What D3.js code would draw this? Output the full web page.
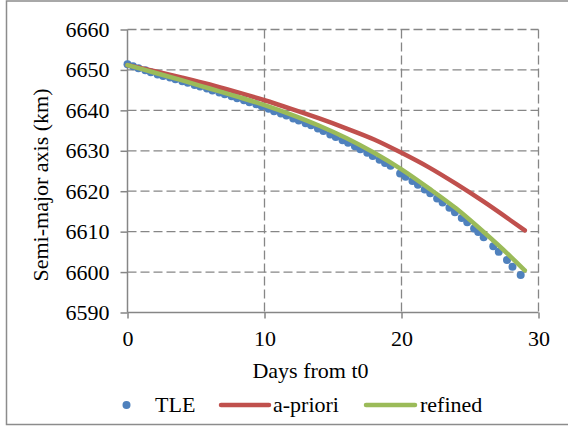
<!DOCTYPE html>
<html>
<head>
<meta charset="utf-8">
<script src="https://cdn.jsdelivr.net/npm/d3@7"></script>
<style>
  html, body { margin: 0; padding: 0; background: #fff; }
  svg { display: block; }
  svg text { font-family: "Liberation Serif", "Times New Roman", serif !important; fill: #000; }
</style>
</head>
<body>
<svg id="chart" width="568" height="426"></svg>
<script>
// ---- data ----
const xTicks = [0, 10, 20, 30];
const yTicks = [6590, 6600, 6610, 6620, 6630, 6640, 6650, 6660];

const tleDays = [0, 0.4, 0.8, 1.3, 1.7, 2.2, 2.6, 3.1, 3.5, 4.0, 4.4, 4.9, 5.3, 5.8, 6.2, 6.7, 7.1, 7.6, 8.0, 8.5, 8.9, 9.4, 9.8,
  10.3, 10.7, 11.2, 11.6, 12.1, 12.5, 13.0, 13.4, 13.9, 14.3, 14.8, 15.2, 15.7, 16.1, 16.6, 17.0, 17.5, 17.9, 18.4, 18.8, 19.2,
  19.9, 20.3, 20.8, 21.2, 21.7, 22.1, 22.6, 23.0, 23.5, 23.9, 24.4, 24.8, 25.3, 25.6, 26.0, 26.7, 27.1, 27.7, 28.1, 28.7];
const tleValues = [6651.4, 6650.9, 6650.4, 6649.9, 6649.4, 6648.9, 6648.5, 6648.1, 6647.7, 6647.2, 6646.8, 6646.3, 6645.9, 6645.4,
  6644.9, 6644.4, 6644.0, 6643.5, 6643.0, 6642.5, 6642.0, 6641.5, 6641.0, 6640.4, 6639.8, 6639.2, 6638.7, 6638.0, 6637.5,
  6636.8, 6636.3, 6635.5, 6634.9, 6634.0, 6633.4, 6632.6, 6632.0, 6631.1, 6630.4, 6629.5, 6628.7, 6627.8, 6627.0, 6626.3,
  6624.4, 6623.6, 6622.5, 6621.6, 6620.4, 6619.5, 6618.2, 6617.2, 6615.9, 6614.8, 6613.4, 6612.3, 6610.8, 6609.9, 6608.6,
  6606.4, 6605.0, 6603.0, 6601.3, 6599.3];

const modelDays = [0, 2, 4, 6, 8, 10, 12, 14, 16, 18, 20, 22, 24, 26, 28, 29];
const aprioriValues = [6651.2, 6649.7, 6648.1, 6646.4, 6644.5, 6642.5, 6640.3, 6638.0, 6635.5, 6632.8, 6629.5, 6625.9, 6621.8, 6617.4, 6612.7, 6610.3];
const refinedValues = [6651.2, 6649.3, 6647.4, 6645.4, 6643.4, 6641.3, 6638.9, 6636.2, 6633.1, 6629.5, 6625.4, 6620.7, 6615.7, 6609.9, 6603.7, 6600.4];

const seriesNames = ["TLE", "a-priori", "refined"];
const colors = { TLE: "#4F81BD", "a-priori": "#C0504D", refined: "#9BBB59" };

// ---- layout ----
const FONT = "'Liberation Serif', 'Times New Roman', serif";
const svg = d3.select("#chart");
const pLeft = 127.5, pRight = 538.5, pTop = 29.5, pBottom = 312.5;
const x = d3.scaleLinear().domain([0, 30]).range([pLeft, pRight]);
const y = d3.scaleLinear().domain([6590, 6660]).range([pBottom, pTop]);
const gridColor = "#868686";

// outer frame
svg.append("rect").attr("x", 6.5).attr("y", 1).attr("width", 570).attr("height", 423.5)
  .attr("fill", "none").attr("stroke", "#8c8c8c").attr("stroke-width", 1.5);

// grid lines
svg.append("g").selectAll("line").data(yTicks.filter(d => d !== 6590)).join("line")
  .attr("x1", pLeft).attr("x2", pRight).attr("y1", d => y(d)).attr("y2", d => y(d))
  .attr("stroke", gridColor).attr("stroke-width", 1.3).attr("stroke-dasharray", "9,4");
svg.append("g").selectAll("line").data(xTicks.filter(d => d !== 0)).join("line")
  .attr("x1", d => x(d)).attr("x2", d => x(d)).attr("y1", pTop).attr("y2", pBottom)
  .attr("stroke", gridColor).attr("stroke-width", 1.3).attr("stroke-dasharray", "9,4");

// axes
const yAxis = d3.axisLeft(y).tickValues(yTicks).tickSize(7).tickPadding(11).tickFormat(d3.format("d"));
const xAxis = d3.axisBottom(x).tickValues(xTicks).tickSize(6).tickPadding(12).tickFormat(d3.format("d"));
const gy = svg.append("g").attr("transform", `translate(${pLeft},0)`).call(yAxis);
const gx = svg.append("g").attr("transform", `translate(0,${pBottom})`).call(xAxis);
[gx, gy].forEach(g => {
  g.attr("font-family", null).attr("font-size", null);
  g.select(".domain").attr("stroke", gridColor).attr("stroke-width", 1.5);
  g.selectAll(".tick line").attr("stroke", gridColor).attr("stroke-width", 1.5);
  g.selectAll(".tick text").style("font-family", FONT).style("font-size", "22px").attr("fill", "#000");
});
gy.select(".domain").attr("d", `M0,${pBottom}V${pTop}`);
gx.select(".domain").attr("d", `M${pLeft},0H${pRight}`);

function addText(sel) {
  return sel.append("text").style("font-family", FONT).style("font-size", "22px");
}

// axis titles
addText(svg).attr("x", 310.5).attr("y", 378).attr("text-anchor", "middle").text("Days from t0");
addText(svg).attr("transform", `translate(48,185) rotate(-90)`).attr("text-anchor", "middle")
  .text("Semi-major axis (km)");

// series
const tle = tleDays.map((d, i) => ({ x: d, y: tleValues[i] }));
const apriori = modelDays.map((d, i) => ({ x: d, y: aprioriValues[i] }));
const refined = modelDays.map((d, i) => ({ x: d, y: refinedValues[i] }));

svg.append("g").selectAll("circle").data(tle).join("circle")
  .attr("cx", d => x(d.x)).attr("cy", d => y(d.y)).attr("r", 4).attr("fill", colors.TLE);

const line = d3.line().x(d => x(d.x)).y(d => y(d.y)).curve(d3.curveMonotoneX);
svg.append("path").datum(apriori).attr("d", line).attr("fill", "none")
  .attr("stroke", colors["a-priori"]).attr("stroke-width", 4.5).attr("stroke-linecap", "round");
svg.append("path").datum(refined).attr("d", line).attr("fill", "none")
  .attr("stroke", colors.refined).attr("stroke-width", 4.5).attr("stroke-linecap", "round");

// legend
const lg = svg.append("g");
lg.append("circle").attr("cx", 126.5).attr("cy", 405).attr("r", 4).attr("fill", colors.TLE);
addText(lg).attr("x", 155).attr("y", 412).text(seriesNames[0]);
lg.append("line").attr("x1", 221).attr("x2", 269).attr("y1", 405).attr("y2", 405)
  .attr("stroke", colors["a-priori"]).attr("stroke-width", 4.5).attr("stroke-linecap", "round");
addText(lg).attr("x", 273).attr("y", 412).text(seriesNames[1]);
lg.append("line").attr("x1", 366).attr("x2", 415).attr("y1", 405).attr("y2", 405)
  .attr("stroke", colors.refined).attr("stroke-width", 4.5).attr("stroke-linecap", "round");
addText(lg).attr("x", 420).attr("y", 412).text(seriesNames[2]);
</script>
</body>
</html>
